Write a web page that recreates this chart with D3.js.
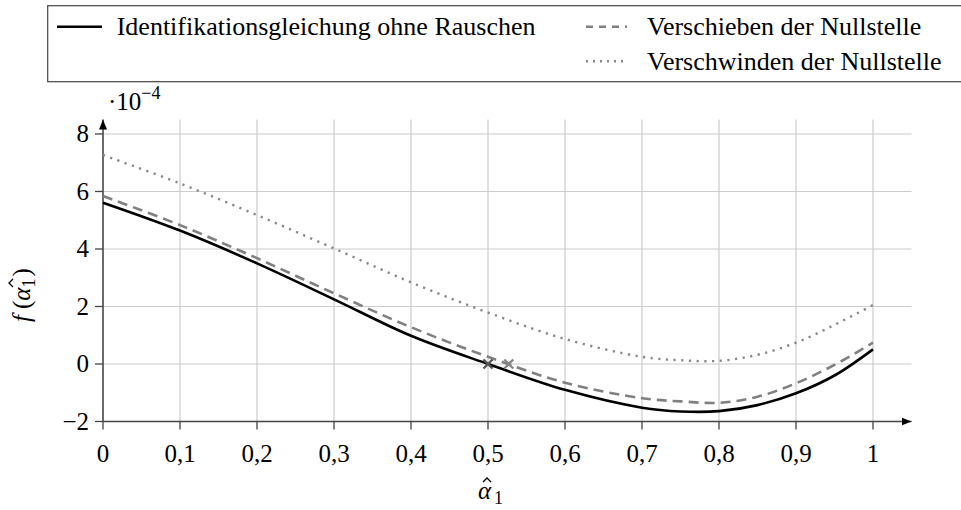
<!DOCTYPE html>
<html><head><meta charset="utf-8">
<script src="https://cdn.jsdelivr.net/npm/d3@7"></script>
<style>body{margin:0;background:#fff}svg{display:block}</style>
</head><body><svg id="c" width="961" height="510"></svg>
<script>
const xs = [0,0.1,0.2,0.3,0.4,0.5,0.6,0.7,0.75,0.8,0.85,0.9,0.95,1.0];
const solid  = [5.61,4.64,3.50,2.25,0.98,0.0,-0.90,-1.52,-1.65,-1.64,-1.43,-1.02,-0.40,0.51];
const dashed = [5.84,4.83,3.68,2.46,1.28,0.25,-0.65,-1.19,-1.30,-1.35,-1.14,-0.67,-0.03,0.74];
const dotted = [7.27,6.28,5.18,4.02,2.84,1.79,0.87,0.25,0.13,0.11,0.32,0.74,1.36,2.05];
const zeros = [[0.5,0],[0.527,0]];
const xTicks = [0,0.1,0.2,0.3,0.4,0.5,0.6,0.7,0.8,0.9,1];
const yTicks = [-2,0,2,4,6,8];
const legendLabels = ["Identifikationsgleichung ohne Rauschen","Verschieben der Nullstelle","Verschwinden der Nullstelle"];

const FF = "'Liberation Serif','Times New Roman',Times,Tinos,'DejaVu Serif','Noto Serif',FreeSerif,'Nimbus Roman',serif";
const svg = d3.select("#c");
const x = d3.scaleLinear().domain([0,1.05]).range([103,911.5]);
const y = d3.scaleLinear().domain([-2,8.5]).range([421.5,119.6]);

const defs = svg.append("defs");
defs.append("marker").attr("id","arr").attr("viewBox","0 0 10 10").attr("refX",10).attr("refY",5)
  .attr("markerWidth",10).attr("markerHeight",10).attr("markerUnits","userSpaceOnUse").attr("orient","auto")
  .append("path").attr("d","M0,1 L10,5 L0,9 Z").attr("fill","#000");

// grid
const g = svg.append("g");
g.selectAll(".vg").data(xTicks).join("line").attr("x1",d=>x(d)).attr("x2",d=>x(d))
  .attr("y1",y(-2)).attr("y2",y(8.5)).attr("stroke","#cccccc").attr("stroke-width",1.2);
g.selectAll(".hg").data(yTicks).join("line").attr("y1",d=>y(d)).attr("y2",d=>y(d))
  .attr("x1",x(0)).attr("x2",x(1.05)).attr("stroke","#cccccc").attr("stroke-width",1.2);

// axes
svg.append("line").attr("x1",x(0)).attr("x2",x(1.05)).attr("y1",y(-2)).attr("y2",y(-2))
  .attr("stroke","#444").attr("stroke-width",1.5).attr("marker-end","url(#arr)");
svg.append("line").attr("x1",x(0)).attr("x2",x(0)).attr("y1",y(-2)).attr("y2",y(8.5))
  .attr("stroke","#444").attr("stroke-width",1.5).attr("marker-end","url(#arr)");
svg.selectAll(".xt").data(xTicks).join("line").attr("x1",d=>x(d)).attr("x2",d=>x(d))
  .attr("y1",y(-2)).attr("y2",y(-2)+8).attr("stroke","#444").attr("stroke-width",1.3);
svg.selectAll(".yt").data(yTicks).join("line").attr("y1",d=>y(d)).attr("y2",d=>y(d))
  .attr("x1",x(0)-8).attr("x2",x(0)).attr("stroke","#444").attr("stroke-width",1.3);

const T = (sel)=>sel.style("font-family",FF).attr("fill","#000");
T(svg.selectAll(".xl").data(xTicks).join("text")).attr("x",d=>x(d)).attr("y",y(-2)+40)
  .attr("text-anchor","middle").attr("font-size",25).text(d=>String(d).replace(".",","));
T(svg.selectAll(".yl").data(yTicks).join("text")).attr("x",x(0)-14).attr("y",d=>y(d)+8.5)
  .attr("text-anchor","end").attr("font-size",25).text(d=>d<0?"\u2212"+(-d):d);

// scale label
const sl = T(svg.append("text")).attr("x",108).attr("y",110).attr("font-size",25);
sl.append("tspan").text("\u00B710");
sl.append("tspan").attr("dy",-11).attr("font-size",18).text("\u22124");

const hat = (sel,cx,cy)=>sel.append("path").attr("d",`M${cx-4},${cy+3}L${cx},${cy-1}L${cx+4},${cy+3}`)
  .attr("fill","none").attr("stroke","#000").attr("stroke-width",1.3);

// x axis title
T(svg.append("text")).attr("x",478).attr("y",499).attr("font-size",25).attr("font-style","italic").text("\u03B1");
hat(svg,487,479);
T(svg.append("text")).attr("x",494).attr("y",504).attr("font-size",18).text("1");

// y axis title (rotated)
const yg = svg.append("g").attr("transform","translate(30,277) rotate(-90)");
const yl = T(yg.append("text")).attr("x",-45).attr("y",0).attr("font-size",25);
yl.append("tspan").attr("font-style","italic").text("f");
yl.append("tspan").attr("dx",6).text("(");
yl.append("tspan").attr("font-style","italic").text("\u03B1");
yl.append("tspan").attr("dy",5).attr("font-size",18).text("1");
yl.append("tspan").attr("dy",-5).attr("dx",2).text(")");
hat(yg,-6,-20);

// curves
const line = d3.line().x((d,i)=>x(xs[i])).y(d=>y(d)).curve(d3.curveCatmullRom.alpha(0.5));
svg.append("path").attr("d",line(dotted)).attr("fill","none").attr("stroke","#888")
  .attr("stroke-width",2.4).attr("stroke-dasharray","2.2,5.5");
svg.append("path").attr("d",line(dashed)).attr("fill","none").attr("stroke","#808080")
  .attr("stroke-width",2.6).attr("stroke-dasharray","10,6");
svg.append("path").attr("d",line(solid)).attr("fill","none").attr("stroke","#000")
  .attr("stroke-width",2.6);

// zero markers
const zc = ["#555","#888"];
zeros.forEach((p,i)=>{
  const cx=x(p[0]), cy=y(p[1]), s=4.5;
  svg.append("path").attr("d",`M${cx-s},${cy-s}L${cx+s},${cy+s}M${cx-s},${cy+s}L${cx+s},${cy-s}`)
    .attr("stroke",zc[i]).attr("stroke-width",2.4).attr("fill","none");
});

// legend
svg.append("rect").attr("x",47.7).attr("y",5.7).attr("width",960).attr("height",76)
  .attr("fill","#fff").attr("stroke","#444").attr("stroke-width",1.2);
const lg = [{x1:57,x2:102,y:26.7,tx:116.7,c:"#000",da:null},
            {x1:586,x2:627,y:26.7,tx:647,c:"#808080",da:"7,6"},
            {x1:586,x2:627,y:61.3,tx:647,c:"#888",da:"2,5"}];
lg.forEach((l,i)=>{
  svg.append("line").attr("x1",l.x1).attr("x2",l.x2).attr("y1",l.y).attr("y2",l.y)
    .attr("stroke",l.c).attr("stroke-width",2.6).attr("stroke-dasharray",l.da);
  T(svg.append("text")).attr("x",l.tx).attr("y",l.y+8.5).attr("font-size",26).text(legendLabels[i]);
});
</script></body></html>
